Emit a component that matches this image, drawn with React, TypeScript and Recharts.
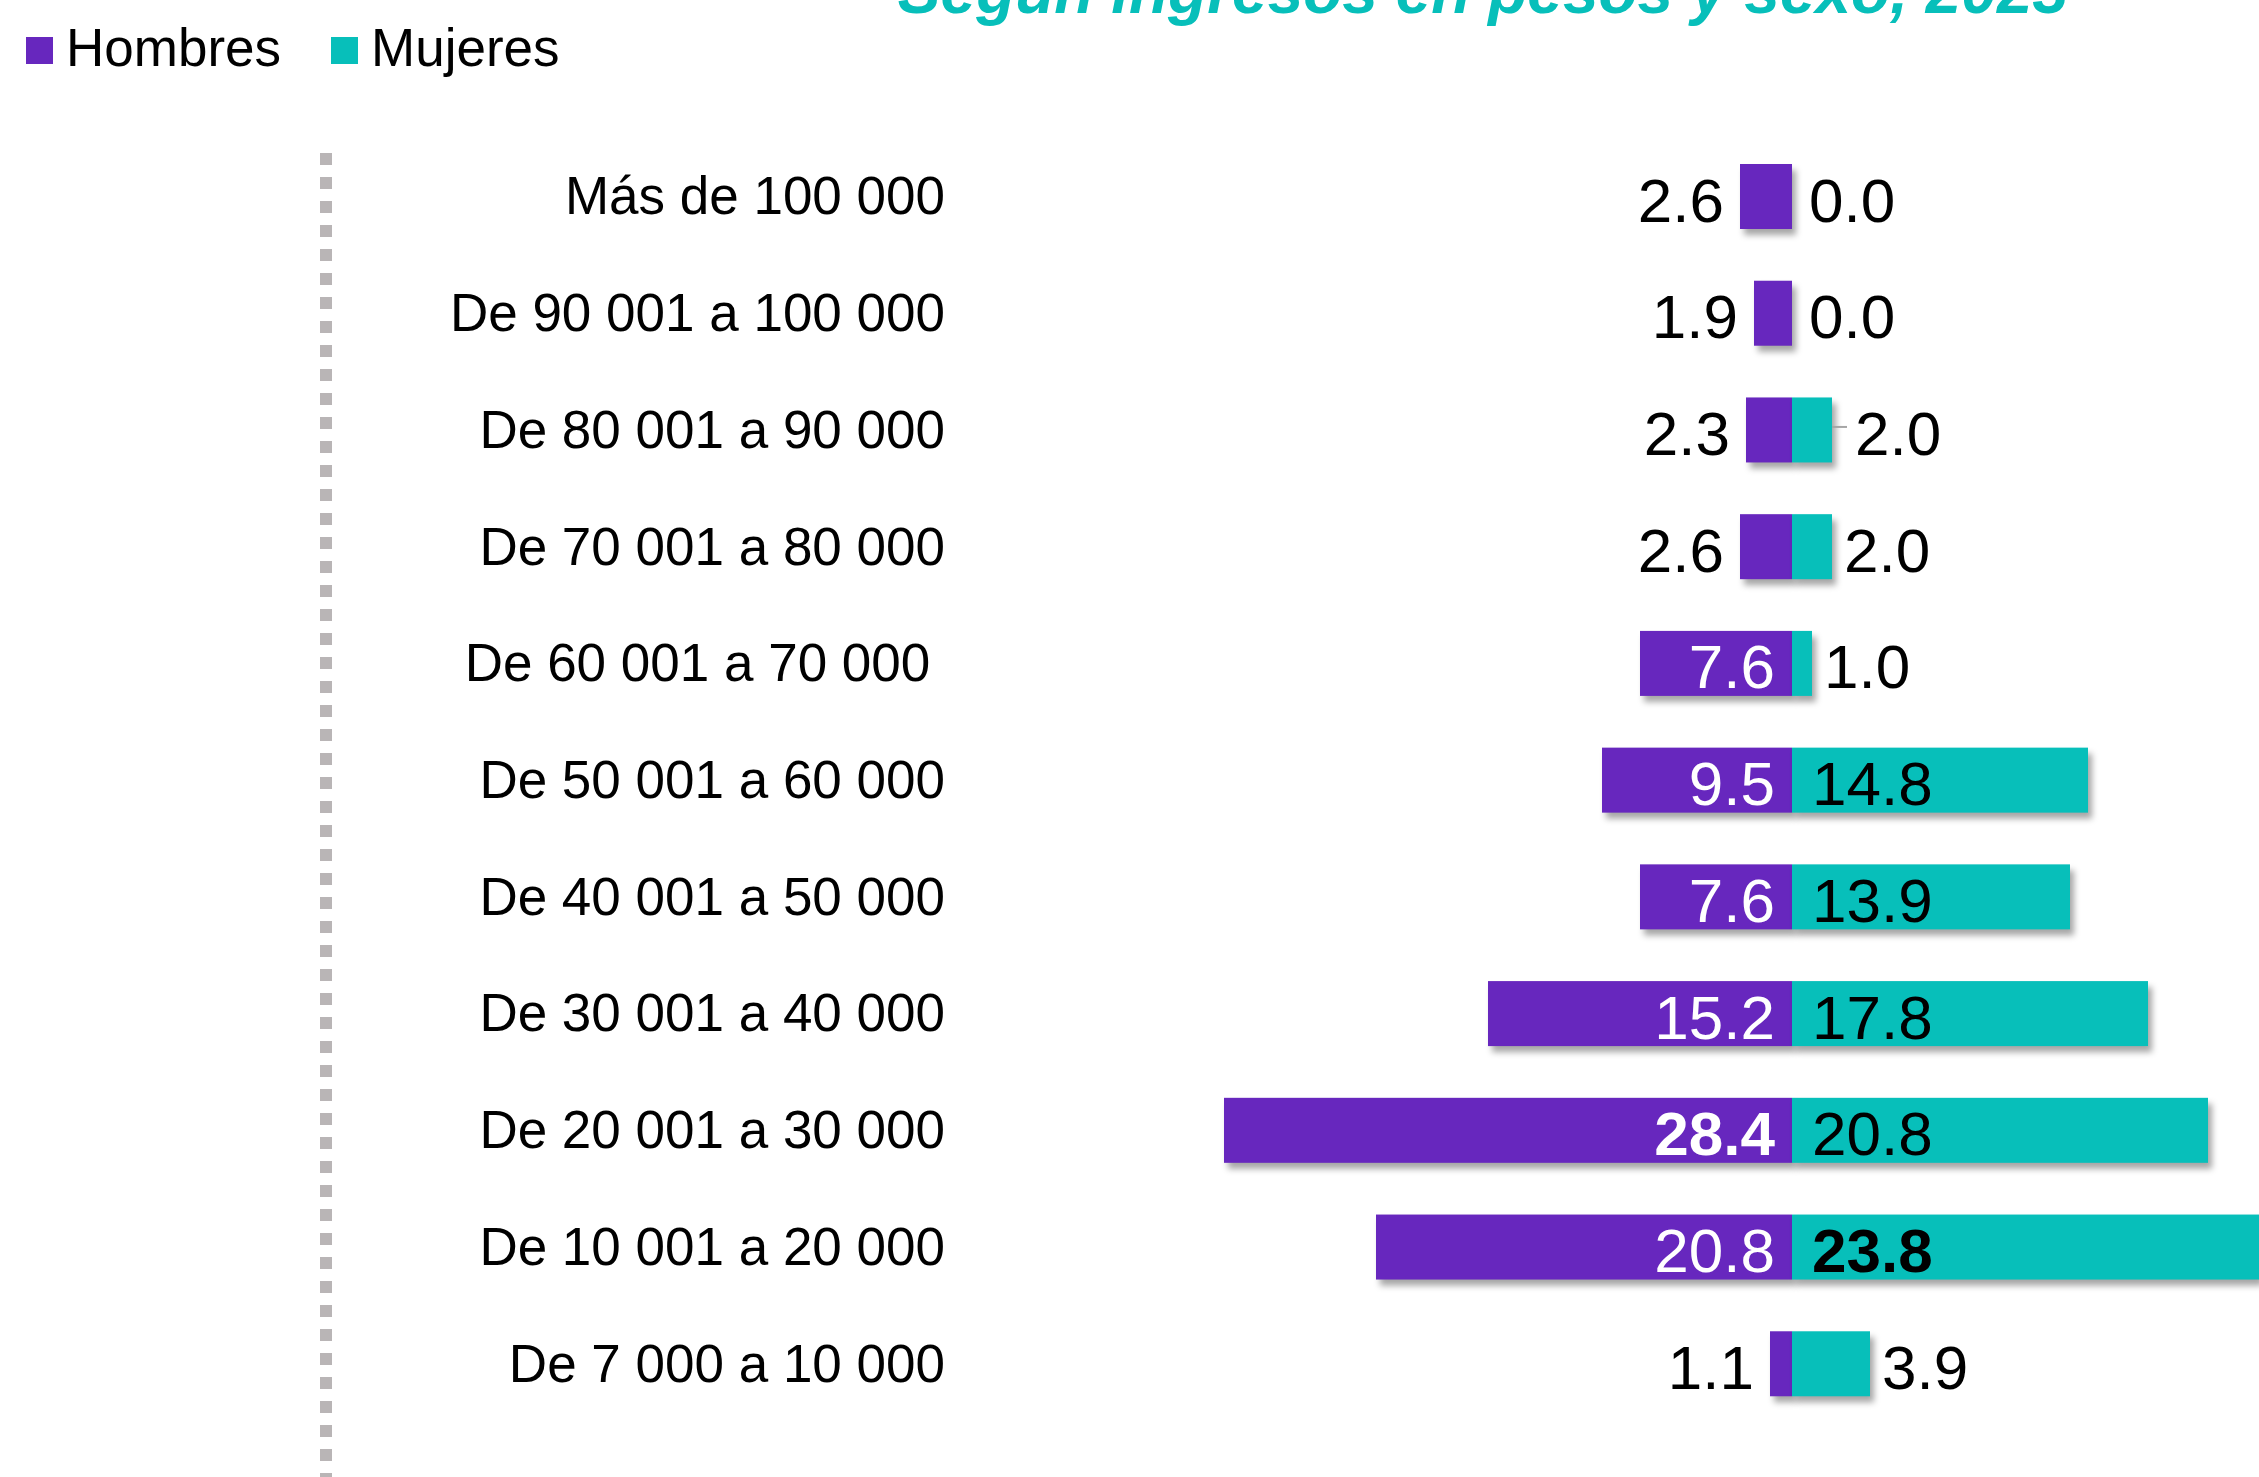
import React from 'react'
import { BarChart, Bar, XAxis, YAxis, Legend, LabelList } from 'recharts'

const categories = [
  'Más de 100 000',
  'De 90 001 a 100 000',
  'De 80 001 a 90 000',
  'De 70 001 a 80 000',
  'De 60 001 a 70 000\u00a0',
  'De 50 001 a 60 000',
  'De 40 001 a 50 000',
  'De 30 001 a 40 000',
  'De 20 001 a 30 000',
  'De 10 001 a 20 000',
  'De 7 000 a 10 000',
]
const hombres = [2.6, 1.9, 2.3, 2.6, 7.6, 9.5, 7.6, 15.2, 28.4, 20.8, 1.1]
const mujeres = [0.0, 0.0, 2.0, 2.0, 1.0, 14.8, 13.9, 17.8, 20.8, 23.8, 3.9]
const seriesNames = ['Hombres', 'Mujeres']
const title = 'Según ingresos en pesos y sexo, 2023'

// labels pointed at with a short leader line in the original
const leaderRows = ['De 80 001 a 90 000']

const PURPLE = '#6727BE'
const TEAL = '#07BFBA'
const FONT = '"Liberation Sans", Arial, sans-serif'
const SHADOW = 'drop-shadow(4px 6px 3px rgba(0,0,0,0.35))'

const data = categories.map((cat, i) => ({
  cat,
  hombres: -hombres[i],
  mujeres: mujeres[i],
}))

const maxH = Math.max(...hombres)
const maxM = Math.max(...mujeres)

function box(props: any) {
  const vb = props.viewBox || {}
  const x = props.x ?? vb.x
  const y = props.y ?? vb.y
  const width = props.width ?? vb.width
  const height = props.height ?? vb.height
  const left = Math.min(x, x + width)
  const right = Math.max(x, x + width)
  return { left, right, cy: y + height / 2 }
}

const ShadowBar = (props: any) => {
  const { left, right } = box(props)
  const w = right - left
  if (!w) return null
  return (
    <rect
      x={left}
      y={props.y}
      width={w}
      height={props.height}
      fill={props.fill}
      style={{ filter: SHADOW }}
    />
  )
}

const HombresLabel = (props: any) => {
  const { left, right, cy } = box(props)
  const v = Math.abs(Number(props.value))
  const inside = v >= 5
  return (
    <text
      x={inside ? right - 17 : left - 16}
      y={cy + 25}
      textAnchor="end"
      fontSize={62}
      fontFamily={FONT}
      fontWeight={v === maxH ? 'bold' : 'normal'}
      fill={inside ? '#fff' : '#000'}
    >
      {v.toFixed(1)}
    </text>
  )
}

const MujeresLabel = (props: any) => {
  const { left, right, cy } = box(props)
  const v = Number(props.value)
  const inside = v >= 5
  const leader = leaderRows.includes(categories[props.index])
  const gap = v === 0 ? 17 : 12
  return (
    <g>
      {leader && (
        <line x1={right} x2={right + 15} y1={cy - 3} y2={cy - 3} stroke="#A6A6A6" strokeWidth={2} />
      )}
      <text
        x={inside ? left + 20 : right + (leader ? 23 : gap)}
        y={cy + 25}
        textAnchor="start"
        fontSize={62}
        fontFamily={FONT}
        fontWeight={v === maxM ? 'bold' : 'normal'}
        fill="#000"
      >
        {v.toFixed(1)}
      </text>
    </g>
  )
}

const CategoryTick = ({ y, payload }: any) => (
  <text x={945} y={y + 18} textAnchor="end" fontSize={53} fontFamily={FONT} fill="#000">
    {payload.value}
  </text>
)

const LegendContent = () => {
  const colors = [PURPLE, TEAL]
  const xs = [26, 331]
  return (
    <svg width={700} height={100} style={{ display: 'block' }}>
      {seriesNames.map((name, i) => (
        <g key={name}>
          <rect x={xs[i]} y={37} width={27} height={27} fill={colors[i]} />
          <text x={xs[i] + 40} y={66} fontSize={53} fontFamily={FONT} fill="#000">
            {name}
          </text>
        </g>
      ))}
    </svg>
  )
}

export default function App() {
  return (
    <div
      style={{
        position: 'absolute',
        left: 0,
        top: 0,
        width: 2259,
        height: 1477,
        overflow: 'hidden',
        background: '#fff',
        fontFamily: FONT,
      }}
    >
      <svg width={2259} height={40} style={{ position: 'absolute', left: 0, top: 0 }}>
        <text
          x={1483}
          y={13}
          textAnchor="middle"
          fontSize={64}
          fontWeight="bold"
          fontStyle="italic"
          fontFamily={FONT}
          fill={TEAL}
        >
          {title}
        </text>
      </svg>
      <div
        style={{
          position: 'absolute',
          left: 320,
          top: 153,
          width: 12,
          height: 1324,
          background: 'repeating-linear-gradient(to bottom, #B9B5B6 0px, #B9B5B6 12px, transparent 12px, transparent 24px)',
        }}
      />
      <div style={{ position: 'absolute', left: 0, top: 0 }}>
        <BarChart
          width={2259}
          height={1477}
          data={data}
          layout="vertical"
          stackOffset="sign"
          margin={{ top: 138, right: 0, bottom: 55, left: 0 }}
          barSize={65}
        >
          <XAxis type="number" domain={[-41.6, 23.35]} hide allowDataOverflow />
          <YAxis
            type="category"
            dataKey="cat"
            width={960}
            axisLine={false}
            tickLine={false}
            interval={0}
            tick={<CategoryTick />}
          />
          <Legend
            layout="horizontal"
            verticalAlign="middle"
            align="center"
            wrapperStyle={{ top: 0, left: 0, width: 700, height: 100 }}
            content={<LegendContent />}
          />
          <Bar
            dataKey="hombres"
            name="Hombres"
            stackId="s"
            fill={PURPLE}
            isAnimationActive={false}
            shape={<ShadowBar />}
          >
            <LabelList dataKey="hombres" content={<HombresLabel />} />
          </Bar>
          <Bar
            dataKey="mujeres"
            name="Mujeres"
            stackId="s"
            fill={TEAL}
            isAnimationActive={false}
            shape={<ShadowBar />}
          >
            <LabelList dataKey="mujeres" content={<MujeresLabel />} />
          </Bar>
        </BarChart>
      </div>
    </div>
  )
}
